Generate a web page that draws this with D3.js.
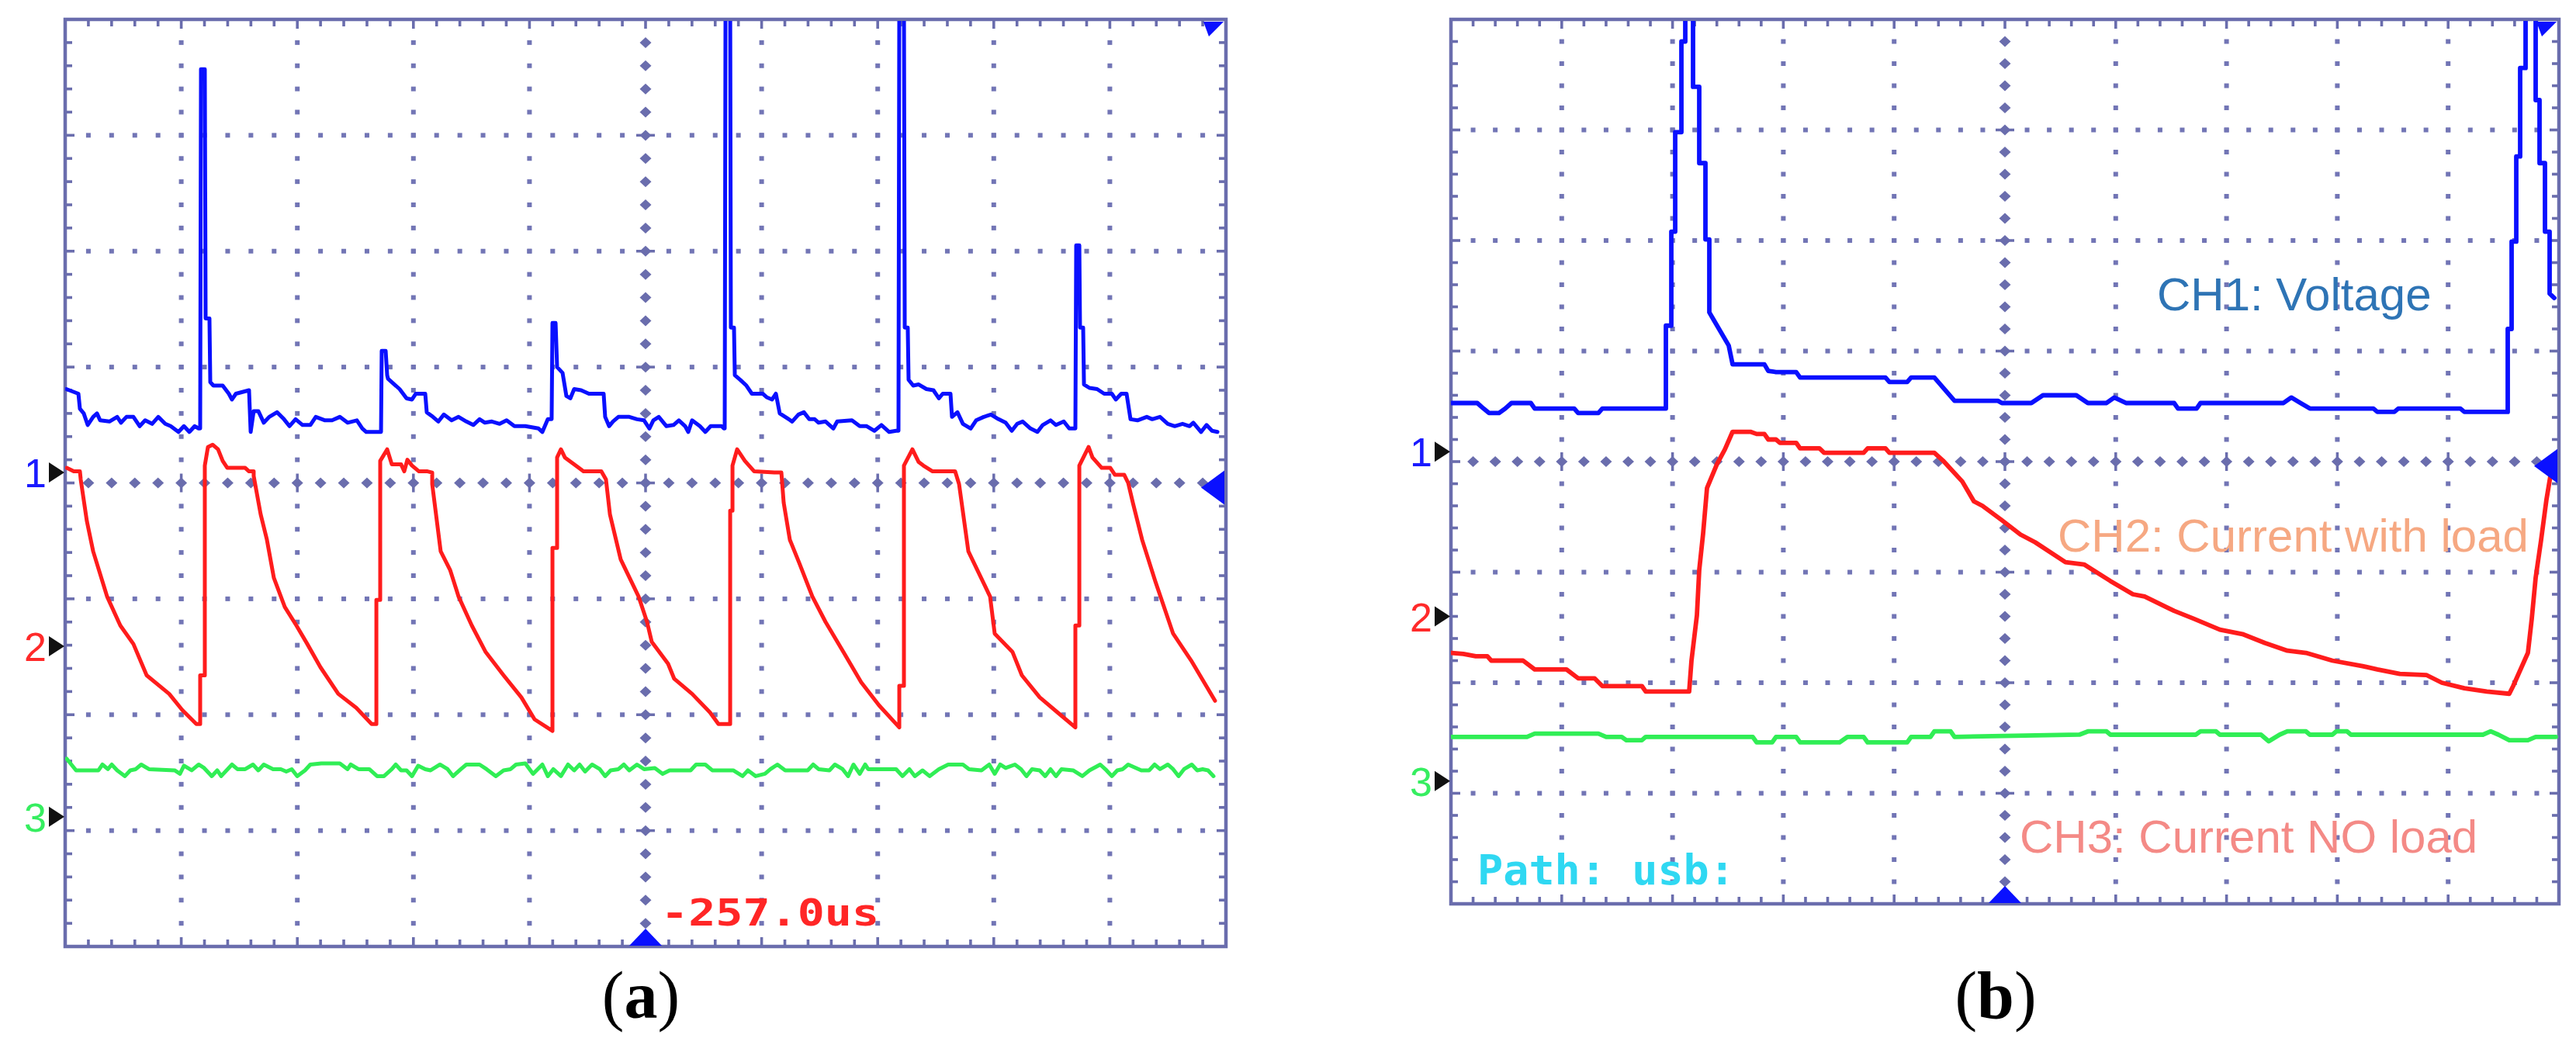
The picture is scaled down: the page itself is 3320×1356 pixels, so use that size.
<!DOCTYPE html>
<html><head><meta charset="utf-8">
<script src="https://cdn.jsdelivr.net/npm/d3@7"></script>
<style>html,body{margin:0;padding:0;background:#fff;} svg{display:block}</style>
</head><body>
<script>
// ===== DATA (time in divisions 0..10, amplitude in divisions -4..4) =====
// Panel (a)
const blueA = [
[0.01,0.81],[0.114,0.77],[0.127,0.64],[0.160,0.60],[0.194,0.50],[0.241,0.57],[0.274,0.60],[0.301,0.54],[0.381,0.53],[0.448,0.57],[0.481,0.52],[0.528,0.57],[0.588,0.57],[0.642,0.49],[0.689,0.54],[0.749,0.51],[0.802,0.57],[0.862,0.51],[0.909,0.49],[0.976,0.44],[1.023,0.49],[1.070,0.44],[1.116,0.49],[1.150,0.47],
[1.163,0.47],[1.170,3.57],[1.203,3.57],[1.210,1.42],[1.243,1.42],[1.250,0.87],
[1.277,0.84],[1.357,0.84],[1.410,0.77],[1.437,0.72],[1.471,0.77],[1.584,0.80],[1.598,0.44],[1.624,0.62],[1.664,0.62],[1.711,0.52],[1.758,0.57],[1.825,0.61],[1.885,0.55],[1.932,0.49],[1.985,0.55],[2.045,0.50],[2.112,0.50],[2.159,0.57],[2.239,0.54],[2.299,0.54],[2.366,0.57],[2.433,0.52],[2.513,0.54],[2.560,0.47],[2.594,0.44],[2.721,0.44],
[2.727,1.14],[2.761,1.14],[2.774,0.93],
[2.781,0.90],[2.814,0.87],[2.881,0.81],[2.941,0.73],[2.988,0.72],[3.021,0.77],[3.102,0.77],[3.115,0.61],[3.168,0.57],[3.215,0.53],[3.262,0.59],[3.329,0.54],[3.389,0.57],[3.456,0.53],[3.516,0.50],[3.570,0.55],[3.616,0.52],[3.676,0.53],[3.743,0.51],[3.803,0.54],[3.870,0.49],[3.964,0.49],[4.078,0.47],[4.111,0.44],[4.158,0.55],
[4.191,0.55],[4.198,1.38],[4.225,1.38],[4.238,1.00],
[4.285,0.95],[4.318,0.75],[4.352,0.73],[4.385,0.81],[4.445,0.80],[4.512,0.77],[4.639,0.77],[4.652,0.57],[4.686,0.49],[4.719,0.53],[4.766,0.57],[4.860,0.57],[4.926,0.55],[4.987,0.54],
[5.033,0.47],[5.067,0.54],[5.114,0.57],[5.180,0.49],[5.241,0.50],[5.287,0.54],[5.341,0.49],[5.368,0.44],[5.401,0.54],[5.468,0.49],[5.515,0.44],[5.561,0.49],[5.655,0.49],[5.675,0.47],
[5.682,0.47],[5.689,4.2],[5.729,4.2],[5.735,1.34],[5.762,1.34],[5.769,0.93],
[5.816,0.89],[5.869,0.84],[5.916,0.77],[6.009,0.77],[6.043,0.74],[6.090,0.72],[6.123,0.77],[6.156,0.60],[6.203,0.57],[6.263,0.53],[6.317,0.59],[6.364,0.61],[6.410,0.55],[6.457,0.55],[6.491,0.52],[6.551,0.53],[6.618,0.47],[6.651,0.53],[6.778,0.54],[6.845,0.49],[6.905,0.49],[6.972,0.45],[7.032,0.50],[7.099,0.44],[7.159,0.45],
[7.179,0.45],[7.186,4.2],[7.226,4.2],[7.233,1.34],[7.259,1.34],[7.266,0.89],
[7.306,0.84],[7.353,0.85],[7.420,0.81],[7.480,0.80],[7.527,0.73],[7.560,0.77],[7.627,0.77],[7.640,0.57],[7.687,0.61],[7.734,0.51],[7.801,0.47],[7.848,0.54],[7.914,0.57],[7.975,0.59],[8.041,0.55],[8.102,0.52],[8.155,0.45],[8.202,0.51],[8.249,0.53],[8.316,0.47],[8.376,0.44],[8.422,0.50],[8.489,0.54],[8.536,0.50],[8.603,0.53],[8.650,0.47],[8.697,0.47],
[8.703,0.47],[8.710,2.05],[8.737,2.05],[8.743,1.34],[8.770,1.34],[8.777,0.85],
[8.824,0.82],[8.890,0.81],[8.951,0.77],[9.017,0.77],[9.051,0.72],[9.098,0.77],[9.144,0.77],[9.178,0.55],[9.238,0.54],[9.318,0.57],[9.365,0.55],[9.432,0.57],[9.499,0.51],[9.559,0.49],[9.626,0.51],[9.686,0.49],[9.719,0.52],[9.786,0.44],[9.833,0.50],[9.880,0.45],[9.927,0.44]
];
const redA = [
[0.013,0.13],[0.074,0.10],[0.127,0.10],[0.134,0.03],[0.187,-0.33],[0.241,-0.59],[0.361,-0.98],[0.475,-1.23],[0.588,-1.39],[0.702,-1.66],[0.896,-1.82],[1.009,-1.96],[1.130,-2.08],[1.163,-2.08],
[1.163,-1.66],[1.203,-1.66],[1.203,0.15],[1.230,0.31],[1.270,0.33],[1.317,0.29],[1.357,0.19],[1.397,0.13],[1.551,0.13],[1.584,0.10],[1.624,0.10],
[1.624,0.06],[1.684,-0.27],[1.738,-0.49],[1.798,-0.82],[1.892,-1.07],[1.992,-1.23],[2.086,-1.39],[2.199,-1.59],[2.353,-1.82],[2.507,-1.94],[2.640,-2.08],[2.681,-2.08],
[2.681,-1.01],[2.714,-1.01],[2.714,0.19],[2.774,0.29],[2.814,0.16],[2.894,0.16],[2.921,0.10],[2.948,0.20],[2.988,0.15],[3.048,0.10],[3.122,0.10],[3.162,0.09],
[3.162,-0.01],[3.235,-0.59],[3.316,-0.75],[3.389,-0.98],[3.503,-1.23],[3.623,-1.46],[3.777,-1.66],[3.930,-1.85],[4.044,-2.04],[4.198,-2.14],
[4.198,-0.56],[4.238,-0.56],[4.238,0.22],[4.271,0.29],[4.305,0.22],[4.425,0.13],[4.465,0.10],[4.619,0.10],[4.659,0.03],
[4.693,-0.27],[4.786,-0.66],[4.940,-0.98],[5.013,-1.20],[5.053,-1.37],[5.194,-1.56],[5.247,-1.69],[5.401,-1.82],[5.555,-1.98],[5.628,-2.08],[5.729,-2.08],
[5.729,-0.24],[5.749,-0.24],[5.749,0.15],[5.789,0.29],[5.856,0.19],[5.936,0.10],[6.110,0.09],[6.170,0.09],
[6.190,-0.17],[6.243,-0.49],[6.324,-0.69],[6.437,-0.98],[6.551,-1.20],[6.705,-1.46],[6.858,-1.72],[7.012,-1.92],[7.186,-2.11],
[7.186,-1.75],[7.226,-1.75],[7.226,0.15],[7.299,0.29],[7.353,0.18],[7.393,0.15],[7.473,0.10],[7.667,0.10],
[7.701,-0.01],[7.781,-0.59],[7.968,-0.98],[8.008,-1.30],[8.162,-1.46],[8.242,-1.66],[8.396,-1.85],[8.549,-1.98],[8.703,-2.11],
[8.703,-1.23],[8.737,-1.23],[8.737,0.15],[8.817,0.31],[8.850,0.22],[8.930,0.13],[9.004,0.13],[9.044,0.07],[9.124,0.07],[9.158,0.00],
[9.198,-0.17],[9.278,-0.49],[9.392,-0.85],[9.545,-1.30],[9.699,-1.53],[9.906,-1.88]
];
const greenA = [
[0.013,-2.38],[0.094,-2.48],[0.287,-2.48],[0.321,-2.43],[0.368,-2.47],[0.401,-2.43],[0.448,-2.48],[0.515,-2.53],[0.561,-2.48],[0.608,-2.47],[0.655,-2.43],[0.722,-2.47],[0.943,-2.48],[0.989,-2.51],[1.023,-2.44],[1.090,-2.48],[1.150,-2.43],[1.197,-2.46],[1.263,-2.53],[1.310,-2.48],[1.344,-2.53],[1.437,-2.43],[1.484,-2.47],[1.551,-2.47],[1.618,-2.43],[1.664,-2.48],[1.711,-2.43],[1.791,-2.47],[1.858,-2.47],[1.905,-2.49],[1.952,-2.47],[1.999,-2.53],[2.066,-2.48],[2.112,-2.43],[2.206,-2.42],[2.366,-2.42],[2.433,-2.47],[2.460,-2.43],[2.527,-2.47],[2.620,-2.47],[2.687,-2.53],[2.747,-2.53],[2.814,-2.47],[2.848,-2.43],[2.894,-2.48],[2.941,-2.48],[2.988,-2.53],[3.041,-2.44],[3.102,-2.47],[3.148,-2.48],[3.229,-2.43],[3.295,-2.47],[3.342,-2.53],[3.409,-2.47],[3.456,-2.43],[3.570,-2.43],[3.630,-2.47],[3.710,-2.53],[3.777,-2.48],[3.837,-2.47],[3.884,-2.43],[3.964,-2.42],[4.031,-2.51],[4.111,-2.43],[4.158,-2.53],[4.205,-2.47],[4.271,-2.53],[4.332,-2.43],[4.385,-2.48],[4.432,-2.43],[4.479,-2.49],[4.539,-2.43],[4.606,-2.47],[4.652,-2.53],[4.699,-2.48],[4.766,-2.47],[4.813,-2.43],[4.860,-2.48],[4.926,-2.43],[4.987,-2.47],[5.080,-2.46],[5.147,-2.51],[5.207,-2.48],[5.388,-2.48],[5.435,-2.43],[5.515,-2.43],[5.575,-2.48],[5.755,-2.48],[5.836,-2.53],[5.882,-2.48],[5.949,-2.53],[6.029,-2.51],[6.076,-2.47],[6.136,-2.43],[6.203,-2.48],[6.397,-2.48],[6.444,-2.43],[6.491,-2.47],[6.584,-2.48],[6.631,-2.43],[6.698,-2.47],[6.745,-2.53],[6.791,-2.43],[6.845,-2.51],[6.892,-2.43],[6.918,-2.47],[7.159,-2.47],[7.213,-2.53],[7.273,-2.47],[7.320,-2.53],[7.386,-2.48],[7.447,-2.53],[7.527,-2.47],[7.607,-2.43],[7.734,-2.43],[7.787,-2.47],[7.894,-2.48],[7.961,-2.43],[8.008,-2.51],[8.055,-2.43],[8.102,-2.46],[8.182,-2.43],[8.235,-2.47],[8.282,-2.53],[8.329,-2.47],[8.396,-2.48],[8.443,-2.53],[8.489,-2.47],[8.536,-2.53],[8.583,-2.47],[8.683,-2.48],[8.763,-2.53],[8.824,-2.48],[8.917,-2.43],[8.971,-2.48],[9.017,-2.53],[9.064,-2.48],[9.111,-2.47],[9.158,-2.43],[9.271,-2.48],[9.338,-2.48],[9.385,-2.43],[9.432,-2.47],[9.499,-2.43],[9.545,-2.47],[9.592,-2.53],[9.639,-2.47],[9.706,-2.43],[9.753,-2.48],[9.799,-2.47],[9.846,-2.48],[9.893,-2.53]
];
// Panel (b)
const blueB = [
[0.007,0.53],[0.238,0.53],[0.294,0.48],[0.343,0.44],[0.434,0.44],[0.490,0.48],[0.546,0.53],[0.721,0.53],[0.756,0.48],[1.113,0.48],[1.148,0.44],[1.331,0.44],[1.366,0.48],[1.940,0.48],
[1.940,1.23],[1.989,1.23],[1.989,2.08],[2.024,2.08],[2.024,2.98],[2.080,2.98],[2.080,3.80],[2.115,3.80],[2.115,4.2],[2.185,4.2],
[2.185,3.39],[2.241,3.39],[2.241,2.70],[2.297,2.70],[2.297,2.01],[2.332,2.01],[2.332,1.35],[2.367,1.29],[2.507,1.05],[2.542,0.88],[2.829,0.88],[2.864,0.82],[2.934,0.81],[3.116,0.81],[3.151,0.76],[3.922,0.76],[3.957,0.72],[4.118,0.72],[4.153,0.76],[4.363,0.76],[4.545,0.55],[4.937,0.55],[4.972,0.53],[5.238,0.53],[5.343,0.60],[5.644,0.60],[5.749,0.53],[5.917,0.53],[5.987,0.58],[6.092,0.53],[6.527,0.53],[6.562,0.48],[6.730,0.48],[6.765,0.53],[7.514,0.53],[7.584,0.58],[7.668,0.53],[7.752,0.48],[8.326,0.48],[8.361,0.45],[8.515,0.45],[8.550,0.48],[9.111,0.48],[9.146,0.45],[9.538,0.45],
[9.538,1.20],[9.573,1.20],[9.573,1.99],[9.615,1.99],[9.615,2.76],[9.650,2.76],[9.650,3.56],[9.699,3.56],[9.699,4.2],[9.790,4.2],
[9.790,3.27],[9.825,3.27],[9.825,2.70],[9.874,2.70],[9.874,2.08],[9.916,2.08],[9.916,1.52],[9.958,1.48]
];
const redB = [
[0.007,-1.73],[0.112,-1.74],[0.224,-1.76],[0.329,-1.76],[0.364,-1.80],[0.651,-1.80],[0.756,-1.88],[1.043,-1.88],[1.148,-1.96],[1.296,-1.96],[1.366,-2.03],[1.723,-2.03],[1.758,-2.08],[2.150,-2.08],
[2.171,-1.80],[2.220,-1.39],[2.241,-0.98],[2.276,-0.65],[2.311,-0.24],[2.402,-0.02],[2.472,0.11],[2.542,0.27],[2.703,0.27],[2.759,0.25],[2.829,0.25],[2.864,0.20],[2.934,0.20],[2.969,0.17],[3.116,0.17],[3.151,0.12],[3.326,0.12],[3.368,0.08],[3.725,0.08],[3.761,0.12],[3.922,0.12],[3.957,0.08],[4.363,0.08],
[4.440,0.01],[4.615,-0.18],[4.720,-0.36],[4.797,-0.40],[4.972,-0.53],[5.140,-0.66],[5.273,-0.73],[5.546,-0.91],[5.714,-0.93],[5.952,-1.08],[6.155,-1.20],[6.261,-1.22],[6.527,-1.35],[6.702,-1.42],[6.940,-1.52],[7.143,-1.56],[7.346,-1.64],[7.549,-1.71],[7.717,-1.73],[7.955,-1.80],[8.228,-1.85],[8.361,-1.88],[8.564,-1.92],[8.803,-1.93],[8.943,-2.00],[9.146,-2.05],[9.349,-2.08],[9.552,-2.10],
[9.587,-2.03],[9.720,-1.73],[9.755,-1.42],[9.790,-1.05],[9.839,-0.71],[9.888,-0.34],[9.923,-0.13],[9.944,-0.04]
];
const greenB = [
[0.007,-2.49],[0.686,-2.49],[0.756,-2.46],[1.331,-2.46],[1.401,-2.49],[1.541,-2.49],[1.583,-2.52],[1.723,-2.52],[1.758,-2.49],[2.724,-2.49],[2.759,-2.54],[2.899,-2.54],[2.934,-2.49],[3.116,-2.49],[3.151,-2.54],[3.508,-2.54],[3.578,-2.49],[3.725,-2.49],[3.761,-2.54],[4.118,-2.54],[4.153,-2.49],[4.328,-2.49],[4.363,-2.44],[4.510,-2.44],[4.545,-2.49],[5.672,-2.47],[5.749,-2.44],[5.917,-2.44],[5.952,-2.47],[6.723,-2.47],[6.765,-2.44],[6.905,-2.44],[6.940,-2.47],[7.311,-2.47],[7.381,-2.53],[7.479,-2.47],[7.549,-2.44],[7.717,-2.44],[7.752,-2.47],[7.955,-2.47],[7.990,-2.44],[8.088,-2.44],[8.123,-2.47],[9.314,-2.47],[9.384,-2.44],[9.454,-2.47],[9.552,-2.52],[9.720,-2.52],[9.790,-2.49],[9.972,-2.49]
];
// channel reference levels (divisions)
const chLevelsA = [0.09, -1.41, -2.88];
const chLevelsB = [0.09, -1.40, -2.89];
const chNames = ["1", "2", "3"];
const trigLevelA = -0.04, trigLevelB = -0.04;
const timeOffsetA = "-257.0us";
const pathLabelB = "Path: usb:";
const annotB = ["CH1: Voltage", "CH2: Current with load", "CH3: Current NO load"];
const panelLabels = ["a", "b"];

// ===== DRAWING =====
const W = 3320, H = 1356;
const svg = d3.select("body").append("svg").attr("width", W).attr("height", H)
  .style("background", "#fff");

const traceColors = ["#0a10ff", "#ff1c1c", "#30ee55"];
const chLabelColors = ["#1a1aff", "#ff2a2a", "#36ee60"];
const gridColor = "#7275b5";
const frameColor = "#6a6dad";

function drawPanel(id, box, traces, levels, trig, sw) {
  const x = d3.scaleLinear().domain([0, 10]).range([box.x0, box.x1]);
  const y = d3.scaleLinear().domain([-4, 4]).range([box.y1, box.y0]);
  const g = svg.append("g");

  // dotted major grid lines
  const dots = [];
  for (let i = 1; i < 10; i++) {
    if (i === 5) continue;
    for (let k = 1; k < 40; k++) dots.push([x(i), y(-4 + k / 5)]);
  }
  for (let j = -3; j <= 3; j++) {
    if (j === 0) continue;
    for (let k = 1; k < 50; k++) dots.push([x(k / 5), y(j)]);
  }
  g.selectAll(null).data(dots).join("rect")
    .attr("x", d => d[0] - 3).attr("y", d => d[1] - 3)
    .attr("width", 6).attr("height", 6).attr("fill", gridColor);

  // center lines with diamonds
  const dia = [];
  for (let k = 1; k < 50; k++) dia.push([x(k / 5), y(0)]);
  for (let k = 1; k < 40; k++) dia.push([x(5), y(-4 + k / 5)]);
  g.selectAll(null).data(dia).join("path")
    .attr("d", d => `M${d[0]-7.5},${d[1]} L${d[0]},${d[1]-7} L${d[0]+7.5},${d[1]} L${d[0]},${d[1]+7} Z`)
    .attr("fill", frameColor);
  const cross = [];
  for (let i = 1; i < 10; i++) cross.push([x(i), y(0), "v"]);
  for (let j = -3; j <= 3; j++) cross.push([x(5), y(j), "h"]);
  g.selectAll(null).data(cross).join("line")
    .attr("x1", d => d[2] === "h" ? d[0] - 12 : d[0]).attr("x2", d => d[2] === "h" ? d[0] + 12 : d[0])
    .attr("y1", d => d[2] === "v" ? d[1] - 12 : d[1]).attr("y2", d => d[2] === "v" ? d[1] + 12 : d[1])
    .attr("stroke", frameColor).attr("stroke-width", 3.5);

  // frame ticks
  const ticks = [];
  for (let k = 1; k < 50; k++) {
    const L = (k % 5 === 0) ? 12 : 9;
    ticks.push([x(k / 5), box.y0, x(k / 5), box.y0 + L]);
    ticks.push([x(k / 5), box.y1, x(k / 5), box.y1 - L]);
  }
  for (let k = 1; k < 40; k++) {
    const L = (k % 5 === 0) ? 12 : 9;
    const yy = y(-4 + k / 5);
    ticks.push([box.x0, yy, box.x0 + L, yy]);
    ticks.push([box.x1, yy, box.x1 - L, yy]);
  }
  g.selectAll(null).data(ticks).join("line")
    .attr("x1", d => d[0]).attr("y1", d => d[1]).attr("x2", d => d[2]).attr("y2", d => d[3])
    .attr("stroke", frameColor).attr("stroke-width", 3.6);

  // traces
  const clipId = "clip" + id;
  svg.append("clipPath").attr("id", clipId).append("rect")
    .attr("x", box.x0).attr("y", box.y0 + 2).attr("width", box.x1 - box.x0).attr("height", box.y1 - box.y0 - 2);
  const line = d3.line().x(d => x(d[0])).y(d => y(d[1]));
  const tg = svg.append("g").attr("clip-path", `url(#${clipId})`);
  traces.forEach((tr, i) => {
    tg.append("path").attr("d", line(tr)).attr("fill", "none")
      .attr("stroke", traceColors[i]).attr("stroke-width", sw)
      .attr("stroke-linejoin", "round").attr("stroke-linecap", "round");
  });

  // frame
  g.append("rect").attr("x", box.x0).attr("y", box.y0)
    .attr("width", box.x1 - box.x0).attr("height", box.y1 - box.y0)
    .attr("fill", "none").attr("stroke", frameColor).attr("stroke-width", 4.5);

  // channel markers
  levels.forEach((lv, i) => {
    const yy = y(lv);
    svg.append("path")
      .attr("d", `M${box.x0 - 21},${yy - 13} L${box.x0 - 1},${yy} L${box.x0 - 21},${yy + 13} Z`)
      .attr("fill", "#111");
    svg.append("text").attr("x", box.x0 - 24).attr("y", yy + 19)
      .attr("text-anchor", "end").attr("font-family", "Liberation Sans, Arial, sans-serif")
      .attr("font-size", 52).attr("fill", chLabelColors[i]).text(chNames[i]);
  });

  // trigger markers (blue)
  const bx = x(5), by = box.y1;
  svg.append("path").attr("d", `M${bx - 21},${by - 1} L${bx},${by - 23} L${bx + 21},${by - 1} Z`).attr("fill", "#0a10ff");
  const ty = y(trig);
  svg.append("path").attr("d", `M${box.x1 - 2},${ty - 22} L${box.x1 - 32},${ty} L${box.x1 - 2},${ty + 22} Z`).attr("fill", "#0a10ff");
  svg.append("path").attr("d", `M${box.x1 - 29},${box.y0 + 3} L${box.x1 - 3},${box.y0 + 3} L${box.x1 - 22},${box.y0 + 22} Z`).attr("fill", "#0a10ff");
  return { x, y };
}

const boxA = { x0: 84, x1: 1580, y0: 25, y1: 1220 };
const boxB = { x0: 1870, x1: 3298, y0: 25, y1: 1165 };
drawPanel("A", boxA, [blueA, redA, greenA], chLevelsA, trigLevelA, 5);
drawPanel("B", boxB, [blueB, redB, greenB], chLevelsB, trigLevelB, 5.8);

// Panel (a) time offset text
svg.append("text").attr("x", 852).attr("y", 1193)
  .attr("font-family", "DejaVu Sans Mono, monospace").attr("font-weight", "bold")
  .attr("font-size", 48).attr("fill", "#ff2626")
  .attr("textLength", 281).attr("lengthAdjust", "spacingAndGlyphs").text(timeOffsetA);

// Panel (b) texts
svg.append("text").attr("x", 1904).attr("y", 1140)
  .attr("font-family", "DejaVu Sans Mono, monospace").attr("font-weight", "bold")
  .attr("font-size", 54).attr("fill", "#2fd8f2")
  .attr("textLength", 332).attr("lengthAdjust", "spacingAndGlyphs").text(pathLabelB);
const annotPos = [[2780, 400, "#2e74b5"], [2652, 711, "#f6a882"], [2603, 1099, "#f48a86"]];
annotB.forEach((t, i) => {
  svg.append("text").attr("x", annotPos[i][0]).attr("y", annotPos[i][1])
    .attr("font-family", "Liberation Sans, Arial, sans-serif").attr("font-size", 60)
    .attr("fill", annotPos[i][2]).text(t);
});

// Panel labels
[[826, 1312], [2572, 1312]].forEach((p, i) => {
  const t = svg.append("text").attr("x", p[0]).attr("y", p[1]).attr("text-anchor", "middle")
    .attr("font-family", "Liberation Serif, 'Times New Roman', serif").attr("font-size", 86).attr("fill", "#000");
  t.append("tspan").text("(");
  t.append("tspan").attr("font-weight", "bold").text(panelLabels[i]);
  t.append("tspan").text(")");
});
</script>
</body></html>
